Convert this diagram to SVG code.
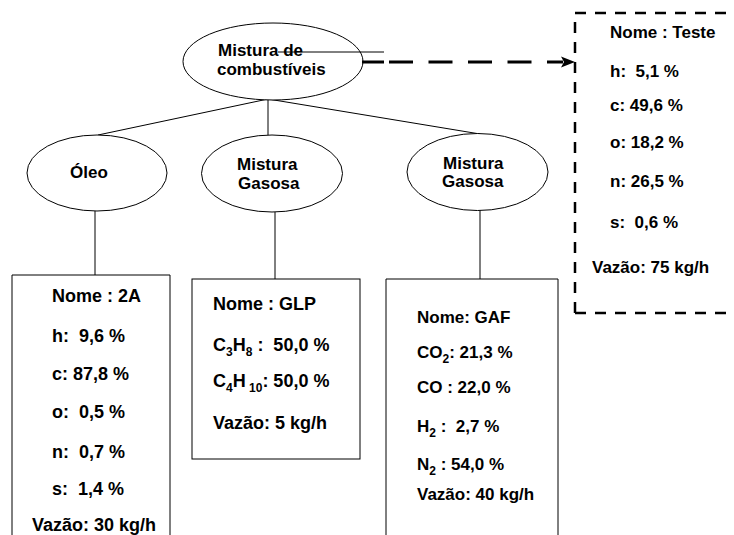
<svg xmlns="http://www.w3.org/2000/svg" width="734" height="535" viewBox="0 0 734 535">
<style>
.t{font-family:"Liberation Sans",Arial,sans-serif;font-weight:bold;fill:#000}
.e{font-size:17px}
.b18{font-size:18px}
.b17{font-size:17px}
.sub{font-size:12px}
.ln{stroke:#000;stroke-width:1;fill:none}
.sh{fill:#fff;stroke:#000;stroke-width:1}
</style>
<rect width="734" height="535" fill="#fff"/>
<g id="connectors">
<line class="ln" x1="268" y1="99" x2="98" y2="135"/>
<line class="ln" x1="268" y1="99" x2="268" y2="135"/>
<line class="ln" x1="268" y1="99" x2="480" y2="134"/>
<line class="ln" x1="95" y1="211" x2="95" y2="275"/>
<line class="ln" x1="275" y1="212" x2="275" y2="279"/>
<line class="ln" x1="480" y1="210" x2="480" y2="279"/>
</g>
<g id="n-mistura">
<ellipse class="sh" cx="273" cy="61.5" rx="90" ry="38.5"/>
<text class="t e" x="218" y="56">Mistura de</text>
<text class="t e" x="217" y="75">combustíveis</text>
</g>
<g id="link-teste">
<line class="ln" x1="278" y1="52" x2="384" y2="52"/>
<line stroke="#000" stroke-width="3" x1="362" y1="62" x2="384" y2="62"/>
<line stroke="#000" stroke-width="3" stroke-dasharray="24 15.5" x1="389" y1="62" x2="563" y2="62"/>
<polygon points="575,62 561,56.5 564,62 561,67.5" fill="#000"/>
</g>
<g id="n-oleo">
<ellipse class="sh" cx="97" cy="173" rx="70" ry="38"/>
<text class="t e" x="70" y="178">Óleo</text>
</g>
<g id="n-gasosa1">
<ellipse class="sh" cx="272" cy="173.5" rx="70.5" ry="38.5"/>
<text class="t e" x="237" y="170">Mistura</text>
<text class="t e" x="238" y="189">Gasosa</text>
</g>
<g id="n-gasosa2">
<ellipse class="sh" cx="477.5" cy="172" rx="70.5" ry="38.5"/>
<text class="t e" x="443" y="169">Mistura</text>
<text class="t e" x="442" y="187">Gasosa</text>
</g>
<g id="n-teste">
<path d="M575,313 V13 H734 M575,313 H734" fill="none" stroke="#000" stroke-width="2.5" stroke-dasharray="11 9"/>
<text class="t b17" x="610" y="38">Nome : Teste</text>
<text class="t b17" x="610" y="77" xml:space="preserve">h:  5,1 %</text>
<text class="t b17" x="610" y="111">c: 49,6 %</text>
<text class="t b17" x="610" y="148">o: 18,2 %</text>
<text class="t b17" x="610" y="187">n: 26,5 %</text>
<text class="t b17" x="610" y="228" xml:space="preserve">s:  0,6 %</text>
<text class="t b17" x="592" y="273">Vazão: 75 kg/h</text>
</g>
<g id="n-2a">
<path class="ln" d="M12,535 V275 H170 V535"/>
<text class="t b18" x="52" y="302">Nome : 2A</text>
<text class="t b18" x="52" y="342" xml:space="preserve">h:  9,6 %</text>
<text class="t b18" x="52" y="380">c: 87,8 %</text>
<text class="t b18" x="52" y="418" xml:space="preserve">o:  0,5 %</text>
<text class="t b18" x="52" y="458" xml:space="preserve">n:  0,7 %</text>
<text class="t b18" x="52" y="495" xml:space="preserve">s:  1,4 %</text>
<text class="t b18" x="32" y="531">Vazão: 30 kg/h</text>
</g>
<g id="n-glp">
<rect class="sh" x="192" y="279" width="168" height="180"/>
<text class="t b18" x="213" y="310">Nome : GLP</text>
<text class="t b18" x="213" y="351" xml:space="preserve">C<tspan class="sub" dy="5">3</tspan><tspan dy="-5">H</tspan><tspan class="sub" dy="5">8</tspan><tspan dy="-5"> :  50,0 %</tspan></text>
<text class="t b18" x="213" y="387" xml:space="preserve">C<tspan class="sub" dy="5">4</tspan><tspan dy="-5">H</tspan><tspan class="sub" dy="5"> 10</tspan><tspan dy="-5">: 50,0 %</tspan></text>
<text class="t b18" x="213" y="429">Vazão: 5 kg/h</text>
</g>
<g id="n-gaf">
<path class="ln" d="M386,535 V279 H558 V535"/>
<text class="t b17" x="417" y="323">Nome: GAF</text>
<text class="t b17" x="417" y="358">CO<tspan class="sub" dy="5">2</tspan><tspan dy="-5">: 21,3 %</tspan></text>
<text class="t b17" x="417" y="393">CO : 22,0 %</text>
<text class="t b17" x="417" y="432" xml:space="preserve">H<tspan class="sub" dy="5">2</tspan><tspan dy="-5"> :  2,7 %</tspan></text>
<text class="t b17" x="417" y="470">N<tspan class="sub" dy="5">2</tspan><tspan dy="-5"> : 54,0 %</tspan></text>
<text class="t b17" x="417" y="500">Vazão: 40 kg/h</text>
</g>
</svg>
